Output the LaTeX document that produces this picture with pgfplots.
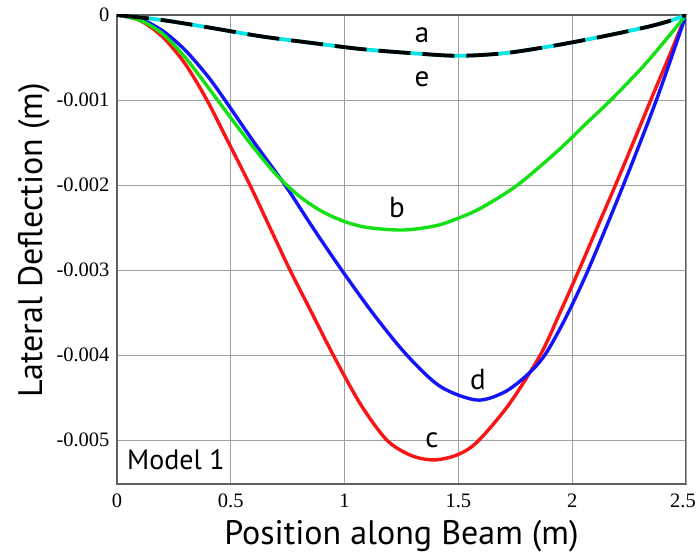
\documentclass[border=0pt]{standalone}
\usepackage{fontspec}
\setmainfont{Liberation Serif}
\newfontfamily\labelfont{PT Sans}
\usepackage{pgfplots}
\pgfplotsset{compat=1.18}

\definecolor{curvered}{RGB}{250,20,20}
\definecolor{curvegreen}{RGB}{20,225,20}
\definecolor{curveblue}{RGB}{20,20,250}
\definecolor{curvecyan}{RGB}{0,230,230}
\definecolor{framegray}{RGB}{95,95,95}
\definecolor{gridgray}{RGB}{160,160,160}

% deflection of curves a and e (they coincide)
\pgfplotstableread{
x y
0 0
0.2 -0.00006
0.41 -0.00015
0.63 -0.00025
0.83 -0.00032
1.07 -0.00040
1.3 -0.00045
1.5 -0.00048
1.7 -0.00045
1.9 -0.00037
2.12 -0.00026
2.33 -0.00014
2.44 -0.00006
2.5 0
}\curveae

\begin{document}
\begin{tikzpicture}
\begin{axis}[
  scale only axis,
  width=569pt, height=469pt,
  xmin=0, xmax=2.5,
  ymin=-0.005518, ymax=0,
  xtick={0,0.5,1,1.5,2},
  xticklabels={0,0.5,1,1.5,2},
  extra x ticks={2.5},
  extra x tick labels={2.5},
  extra x tick style={xticklabel style={xshift=-3pt}},
  ytick={-0.005,-0.004,-0.003,-0.002,-0.001,0},
  yticklabels={-0.005,-0.004,-0.003,-0.002,-0.001,0},
  scaled y ticks=false,
  major tick length=0pt,
  xmajorgrids, ymajorgrids,
  grid style={draw=gridgray, line width=0.9pt},
  axis line style={draw=framegray, line width=1.8pt},
  tick label style={font=\fontsize{20.5}{20.5}\selectfont},
  xticklabel style={yshift=-6pt},
  yticklabel style={xshift=-4pt},
  xlabel={Position along Beam (m)},
  ylabel={Lateral Deflection (m)},
  label style={font=\labelfont\fontsize{34}{34}\selectfont},
  xlabel style={at={(axis description cs:0.5,-0.130)}, anchor=base},
  ylabel style={at={(axis description cs:-0.145,0.52)}, anchor=center},
  every axis plot/.append style={smooth, no markers},
  clip=true,
]
% curve c
\addplot[curvered, line width=3.4pt] coordinates {
  (0,0) (0.1,-0.000064) (0.2,-0.000256) (0.3,-0.000577) (0.395,-0.0010)
  (0.49,-0.0015) (0.584,-0.0020) (0.67,-0.00249) (0.76,-0.0030)
  (0.855,-0.0035) (0.95,-0.0040) (1.07,-0.00458) (1.185,-0.0050)
  (1.29,-0.00518) (1.39,-0.005235) (1.49,-0.00518) (1.58,-0.00503)
  (1.72,-0.00459) (1.86,-0.0040) (1.945,-0.00351) (2.03,-0.00300)
  (2.11,-0.00250) (2.195,-0.00197) (2.27,-0.00149) (2.35,-0.00097)
  (2.43,-0.00046) (2.5,0)
};
% curve d
\addplot[curveblue, line width=3.4pt] coordinates {
  (0,0) (0.1,-0.000045) (0.2,-0.000185) (0.3,-0.000415) (0.4,-0.000725)
  (0.474,-0.0010) (0.6,-0.00149) (0.738,-0.0020) (0.86,-0.0025)
  (0.987,-0.0030) (1.13,-0.00353) (1.273,-0.0040) (1.42,-0.00437)
  (1.58,-0.00453) (1.70,-0.00444) (1.80,-0.00424) (1.88,-0.0040)
  (1.97,-0.00357) (2.07,-0.0030) (2.225,-0.0020) (2.37,-0.0010) (2.5,0)
};
% curve b
\addplot[curvegreen, line width=3.4pt] coordinates {
  (0,0) (0.1,-0.00006) (0.2,-0.00022) (0.3,-0.00050) (0.4,-0.00085)
  (0.5,-0.00121) (0.6,-0.00156) (0.7,-0.00188) (0.8,-0.00213)
  (0.9,-0.00231) (1.0,-0.00243) (1.1,-0.00250) (1.257,-0.00253)
  (1.4,-0.00248) (1.5,-0.00239) (1.6,-0.00227) (1.76,-0.0020)
  (1.94,-0.00159) (2.06,-0.00128) (2.17,-0.0010) (2.31,-0.00061)
  (2.415,-0.00028) (2.5,0)
};
% curves a and e: cyan underneath, black dashes on top
\addplot[curvecyan, line width=3.8pt] table {\curveae};
\addplot[black, line width=3.8pt, dash pattern=on 32pt off 12pt] table {\curveae};
% curve letters
\begin{scope}[every node/.style={font=\labelfont\fontsize{29}{29}\selectfont, inner sep=0pt, anchor=center}]
\node at (axis cs:1.34,-0.000235) {a};
\node at (axis cs:1.34,-0.00076) {e};
\node at (axis cs:1.23,-0.00226) {b};
\node at (axis cs:1.384,-0.0050) {c};
\node at (axis cs:1.586,-0.00429) {d};
\end{scope}
\node[font=\labelfont\fontsize{28}{28}\selectfont, anchor=base west, inner sep=0pt]
  at (axis cs:0.044,-0.00535) {Model 1};
\end{axis}
\pgfresetboundingbox
\path[use as bounding box] (-117pt,-71pt) rectangle (580pt,484pt);
\end{tikzpicture}
\end{document}
